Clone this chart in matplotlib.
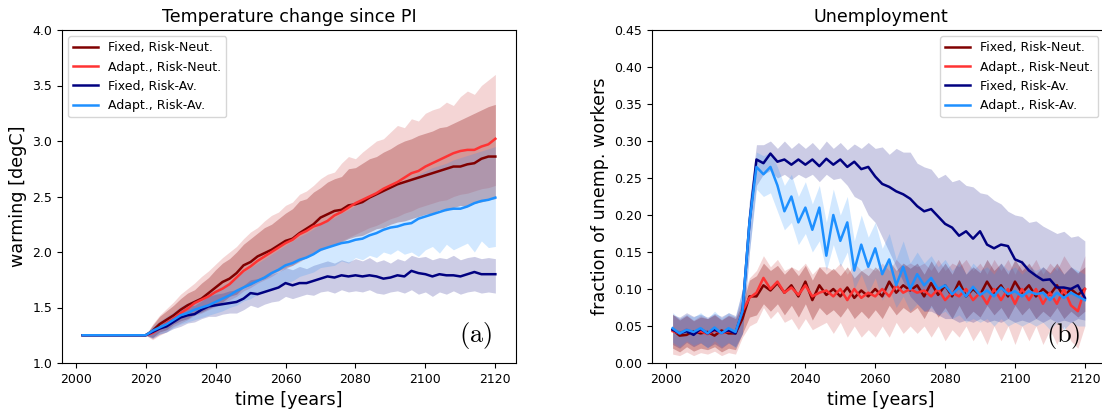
import numpy as np
import matplotlib
matplotlib.use("Agg")
import matplotlib.pyplot as plt

## data (2-year steps)
years = list(range(2002, 2121, 2))
labels = ["Fixed, Risk-Neut.", "Adapt., Risk-Neut.", "Fixed, Risk-Av.", "Adapt., Risk-Av."]
pre_flat = [1.25] * 10

# temperature change since PI [degC]
temp_fix_rn = pre_flat + [
    1.29, 1.35, 1.39, 1.43, 1.48, 1.52, 1.55, 1.58, 1.63, 1.68,
    1.73, 1.76, 1.81, 1.88, 1.91, 1.96, 1.99, 2.02, 2.06, 2.10,
    2.12, 2.17, 2.21, 2.25, 2.31, 2.34, 2.37, 2.38, 2.42, 2.43,
    2.45, 2.49, 2.52, 2.55, 2.58, 2.61, 2.63, 2.65, 2.67, 2.69,
    2.71, 2.73, 2.75, 2.77, 2.77, 2.79, 2.80, 2.84, 2.86, 2.86]
temp_fix_rn_lo = pre_flat + [
    1.23, 1.28, 1.30, 1.35, 1.38, 1.40, 1.44, 1.46, 1.49, 1.52,
    1.55, 1.60, 1.62, 1.68, 1.70, 1.74, 1.76, 1.80, 1.83, 1.86,
    1.88, 1.92, 1.95, 1.98, 2.02, 2.05, 2.07, 2.09, 2.12, 2.14,
    2.15, 2.18, 2.21, 2.22, 2.25, 2.27, 2.28, 2.30, 2.32, 2.34,
    2.35, 2.38, 2.37, 2.40, 2.42, 2.41, 2.44, 2.45, 2.47, 2.48]
temp_fix_rn_hi = pre_flat + [
    1.34, 1.42, 1.47, 1.52, 1.58, 1.63, 1.66, 1.72, 1.77, 1.84,
    1.90, 1.94, 2.00, 2.07, 2.12, 2.17, 2.22, 2.25, 2.30, 2.35,
    2.39, 2.46, 2.48, 2.54, 2.58, 2.63, 2.66, 2.68, 2.75, 2.76,
    2.80, 2.84, 2.86, 2.90, 2.93, 2.97, 3.00, 3.02, 3.05, 3.07,
    3.09, 3.12, 3.13, 3.16, 3.19, 3.22, 3.25, 3.28, 3.31, 3.33]

temp_ada_rn = pre_flat + [
    1.27, 1.31, 1.36, 1.40, 1.45, 1.49, 1.54, 1.57, 1.60, 1.64,
    1.67, 1.71, 1.77, 1.83, 1.87, 1.92, 1.96, 2.00, 2.04, 2.08,
    2.11, 2.16, 2.19, 2.23, 2.25, 2.28, 2.33, 2.36, 2.40, 2.44,
    2.47, 2.50, 2.53, 2.57, 2.60, 2.63, 2.67, 2.71, 2.73, 2.77,
    2.80, 2.83, 2.86, 2.89, 2.91, 2.92, 2.92, 2.95, 2.97, 3.02]
temp_ada_rn_lo = pre_flat + [
    1.21, 1.25, 1.28, 1.33, 1.36, 1.39, 1.43, 1.45, 1.48, 1.51,
    1.54, 1.57, 1.60, 1.65, 1.68, 1.72, 1.75, 1.78, 1.82, 1.85,
    1.88, 1.91, 1.95, 1.99, 2.01, 2.04, 2.07, 2.10, 2.13, 2.16,
    2.19, 2.22, 2.24, 2.27, 2.30, 2.32, 2.35, 2.37, 2.40, 2.42,
    2.44, 2.46, 2.47, 2.50, 2.52, 2.53, 2.55, 2.57, 2.58, 2.60]
temp_ada_rn_hi = pre_flat + [
    1.35, 1.43, 1.49, 1.55, 1.62, 1.67, 1.72, 1.78, 1.83, 1.89,
    1.95, 2.00, 2.05, 2.12, 2.18, 2.22, 2.28, 2.33, 2.36, 2.42,
    2.45, 2.52, 2.55, 2.60, 2.66, 2.70, 2.72, 2.80, 2.86, 2.84,
    2.90, 2.95, 3.00, 3.02, 3.08, 3.14, 3.12, 3.20, 3.18, 3.25,
    3.28, 3.30, 3.35, 3.32, 3.40, 3.45, 3.42, 3.50, 3.55, 3.60]

temp_fix_ra = pre_flat + [
    1.28, 1.31, 1.33, 1.37, 1.41, 1.43, 1.44, 1.48, 1.51, 1.52,
    1.53, 1.54, 1.55, 1.58, 1.63, 1.62, 1.64, 1.66, 1.68, 1.72,
    1.70, 1.72, 1.72, 1.74, 1.76, 1.78, 1.77, 1.79, 1.78, 1.79,
    1.78, 1.79, 1.78, 1.76, 1.77, 1.79, 1.78, 1.83, 1.81, 1.80,
    1.78, 1.80, 1.79, 1.79, 1.78, 1.80, 1.82, 1.80, 1.80, 1.80]
temp_fix_ra_lo = pre_flat + [
    1.22, 1.26, 1.28, 1.31, 1.33, 1.36, 1.37, 1.40, 1.42, 1.42,
    1.44, 1.45, 1.45, 1.48, 1.52, 1.50, 1.53, 1.55, 1.56, 1.60,
    1.58, 1.60, 1.62, 1.61, 1.64, 1.65, 1.63, 1.66, 1.64, 1.65,
    1.64, 1.66, 1.63, 1.62, 1.64, 1.65, 1.63, 1.66, 1.62, 1.64,
    1.60, 1.64, 1.62, 1.65, 1.62, 1.64, 1.65, 1.63, 1.64, 1.63]
temp_fix_ra_hi = pre_flat + [
    1.32, 1.36, 1.39, 1.43, 1.48, 1.51, 1.52, 1.56, 1.60, 1.62,
    1.63, 1.65, 1.66, 1.70, 1.75, 1.76, 1.78, 1.80, 1.82, 1.86,
    1.84, 1.87, 1.85, 1.88, 1.90, 1.92, 1.90, 1.93, 1.91, 1.94,
    1.92, 1.95, 1.91, 1.93, 1.90, 1.94, 1.92, 1.97, 1.95, 1.96,
    1.93, 1.95, 1.94, 1.97, 1.93, 1.95, 1.96, 1.94, 1.95, 1.94]

temp_ada_ra = pre_flat + [
    1.29, 1.32, 1.35, 1.39, 1.43, 1.45, 1.48, 1.50, 1.52, 1.55,
    1.58, 1.61, 1.65, 1.68, 1.71, 1.74, 1.77, 1.81, 1.84, 1.88,
    1.90, 1.93, 1.95, 1.98, 2.02, 2.04, 2.06, 2.08, 2.09, 2.11,
    2.12, 2.15, 2.17, 2.20, 2.22, 2.23, 2.25, 2.26, 2.30, 2.32,
    2.34, 2.36, 2.38, 2.39, 2.39, 2.41, 2.44, 2.46, 2.47, 2.49]
temp_ada_ra_lo = pre_flat + [
    1.23, 1.26, 1.28, 1.32, 1.35, 1.37, 1.39, 1.41, 1.43, 1.45,
    1.47, 1.50, 1.52, 1.56, 1.58, 1.62, 1.64, 1.67, 1.70, 1.72,
    1.74, 1.78, 1.80, 1.82, 1.86, 1.87, 1.88, 1.92, 1.90, 1.95,
    1.93, 1.97, 1.95, 2.00, 1.98, 2.02, 1.98, 2.00, 1.96, 2.02,
    2.05, 1.99, 2.07, 2.02, 2.05, 2.08, 2.00, 2.10, 2.04, 2.05]
temp_ada_ra_hi = pre_flat + [
    1.33, 1.38, 1.42, 1.46, 1.51, 1.54, 1.57, 1.60, 1.63, 1.66,
    1.70, 1.73, 1.78, 1.82, 1.86, 1.90, 1.94, 1.98, 2.02, 2.06,
    2.10, 2.14, 2.17, 2.21, 2.25, 2.28, 2.31, 2.35, 2.38, 2.42,
    2.45, 2.48, 2.52, 2.55, 2.58, 2.61, 2.64, 2.67, 2.70, 2.73,
    2.76, 2.78, 2.80, 2.83, 2.85, 2.87, 2.89, 2.91, 2.93, 2.95]

# unemployment [fraction of unemp. workers]
unemp_fix_rn = [
    0.045, 0.037, 0.038, 0.043, 0.040, 0.042, 0.037, 0.044, 0.040, 0.040,
    0.060, 0.090, 0.090, 0.105, 0.098, 0.108, 0.095, 0.105, 0.090, 0.110,
    0.085, 0.105, 0.092, 0.100, 0.090, 0.102, 0.088, 0.098, 0.090, 0.100,
    0.090, 0.110, 0.095, 0.105, 0.098, 0.105, 0.090, 0.108, 0.092, 0.105,
    0.090, 0.110, 0.090, 0.100, 0.092, 0.110, 0.095, 0.105, 0.090, 0.110,
    0.095, 0.105, 0.090, 0.100, 0.092, 0.105, 0.090, 0.100, 0.092, 0.100]
unemp_fix_rn_lo = [
    0.020, 0.015, 0.022, 0.016, 0.020, 0.018, 0.022, 0.015, 0.020, 0.018,
    0.040, 0.062, 0.065, 0.080, 0.070, 0.080, 0.065, 0.078, 0.062, 0.080,
    0.058, 0.075, 0.065, 0.072, 0.062, 0.075, 0.060, 0.070, 0.060, 0.072,
    0.060, 0.078, 0.065, 0.075, 0.068, 0.075, 0.060, 0.078, 0.062, 0.075,
    0.060, 0.078, 0.060, 0.070, 0.062, 0.078, 0.065, 0.075, 0.060, 0.078,
    0.065, 0.075, 0.060, 0.070, 0.062, 0.075, 0.060, 0.070, 0.062, 0.070]
unemp_fix_rn_hi = [
    0.066, 0.058, 0.064, 0.057, 0.062, 0.060, 0.065, 0.058, 0.064, 0.060,
    0.080, 0.112, 0.118, 0.135, 0.125, 0.132, 0.120, 0.130, 0.118, 0.132,
    0.112, 0.130, 0.120, 0.128, 0.118, 0.130, 0.115, 0.125, 0.118, 0.130,
    0.120, 0.138, 0.125, 0.135, 0.128, 0.135, 0.120, 0.138, 0.122, 0.135,
    0.120, 0.140, 0.120, 0.130, 0.122, 0.140, 0.125, 0.135, 0.120, 0.140,
    0.125, 0.135, 0.120, 0.130, 0.122, 0.135, 0.120, 0.130, 0.122, 0.130]

unemp_ada_rn = [
    0.043, 0.040, 0.045, 0.040, 0.043, 0.039, 0.044, 0.040, 0.043, 0.041,
    0.070, 0.088, 0.095, 0.115, 0.100, 0.110, 0.095, 0.102, 0.092, 0.105,
    0.090, 0.095, 0.098, 0.090, 0.100, 0.085, 0.100, 0.088, 0.095, 0.090,
    0.100, 0.090, 0.105, 0.095, 0.100, 0.095, 0.098, 0.090, 0.100, 0.085,
    0.095, 0.090, 0.100, 0.085, 0.095, 0.080, 0.100, 0.085, 0.100, 0.080,
    0.100, 0.085, 0.100, 0.080, 0.095, 0.080, 0.100, 0.078, 0.070, 0.100]
unemp_ada_rn_lo = [
    0.012, 0.010, 0.015, 0.010, 0.014, 0.012, 0.016, 0.010, 0.014, 0.012,
    0.035, 0.050, 0.055, 0.075, 0.060, 0.070, 0.055, 0.060, 0.045, 0.060,
    0.045, 0.050, 0.055, 0.040, 0.055, 0.035, 0.050, 0.035, 0.045, 0.035,
    0.050, 0.035, 0.055, 0.040, 0.050, 0.040, 0.050, 0.035, 0.050, 0.030,
    0.045, 0.035, 0.050, 0.030, 0.045, 0.025, 0.050, 0.030, 0.050, 0.025,
    0.050, 0.030, 0.050, 0.025, 0.045, 0.025, 0.050, 0.030, 0.020, 0.050]
unemp_ada_rn_hi = [
    0.066, 0.060, 0.065, 0.058, 0.064, 0.060, 0.066, 0.059, 0.065, 0.062,
    0.090, 0.115, 0.125, 0.145, 0.130, 0.140, 0.125, 0.130, 0.125, 0.135,
    0.120, 0.130, 0.130, 0.125, 0.135, 0.120, 0.135, 0.125, 0.130, 0.125,
    0.135, 0.125, 0.140, 0.130, 0.135, 0.130, 0.135, 0.125, 0.140, 0.125,
    0.135, 0.130, 0.140, 0.125, 0.135, 0.120, 0.140, 0.125, 0.140, 0.120,
    0.140, 0.125, 0.140, 0.120, 0.135, 0.125, 0.145, 0.130, 0.120, 0.145]

unemp_fix_ra = [
    0.045, 0.040, 0.043, 0.038, 0.046, 0.040, 0.045, 0.041, 0.044, 0.040,
    0.070, 0.190, 0.275, 0.270, 0.283, 0.272, 0.275, 0.268, 0.275, 0.268,
    0.275, 0.266, 0.276, 0.268, 0.275, 0.265, 0.272, 0.262, 0.265, 0.252,
    0.242, 0.238, 0.232, 0.228, 0.222, 0.212, 0.205, 0.208, 0.198, 0.188,
    0.183, 0.172, 0.178, 0.168, 0.178, 0.160, 0.155, 0.160, 0.158, 0.140,
    0.136, 0.125, 0.118, 0.112, 0.113, 0.102, 0.102, 0.100, 0.105, 0.088]
unemp_fix_ra_lo = [
    0.025, 0.020, 0.028, 0.022, 0.027, 0.021, 0.026, 0.020, 0.027, 0.022,
    0.040, 0.150, 0.240, 0.255, 0.260, 0.250, 0.255, 0.248, 0.255, 0.250,
    0.255, 0.245, 0.255, 0.248, 0.250, 0.240, 0.225, 0.220, 0.200, 0.190,
    0.170, 0.150, 0.130, 0.110, 0.090, 0.080, 0.070, 0.070, 0.065, 0.060,
    0.060, 0.055, 0.058, 0.055, 0.060, 0.055, 0.058, 0.055, 0.060, 0.055,
    0.058, 0.055, 0.060, 0.055, 0.060, 0.055, 0.058, 0.055, 0.060, 0.058]
unemp_fix_ra_hi = [
    0.065, 0.062, 0.068, 0.063, 0.066, 0.062, 0.067, 0.063, 0.068, 0.064,
    0.100, 0.220, 0.295, 0.295, 0.300, 0.290, 0.300, 0.290, 0.298, 0.290,
    0.298, 0.288, 0.300, 0.290, 0.298, 0.288, 0.296, 0.290, 0.298, 0.290,
    0.292, 0.282, 0.290, 0.285, 0.285, 0.270, 0.265, 0.262, 0.250, 0.255,
    0.245, 0.248, 0.240, 0.238, 0.230, 0.228, 0.220, 0.215, 0.205, 0.200,
    0.198, 0.190, 0.192, 0.185, 0.180, 0.175, 0.178, 0.170, 0.172, 0.165]

unemp_ada_ra = [
    0.047, 0.040, 0.045, 0.042, 0.047, 0.040, 0.048, 0.040, 0.047, 0.042,
    0.070, 0.190, 0.265, 0.255, 0.265, 0.240, 0.205, 0.225, 0.190, 0.210,
    0.180, 0.210, 0.145, 0.200, 0.165, 0.190, 0.125, 0.160, 0.130, 0.155,
    0.120, 0.140, 0.105, 0.130, 0.100, 0.120, 0.105, 0.115, 0.100, 0.105,
    0.093, 0.102, 0.090, 0.103, 0.092, 0.098, 0.090, 0.102, 0.093, 0.097,
    0.090, 0.097, 0.093, 0.095, 0.085, 0.095, 0.088, 0.095, 0.090, 0.085]
unemp_ada_ra_lo = [
    0.028, 0.022, 0.030, 0.024, 0.028, 0.020, 0.030, 0.022, 0.028, 0.020,
    0.040, 0.150, 0.235, 0.225, 0.230, 0.205, 0.180, 0.190, 0.160, 0.175,
    0.150, 0.165, 0.125, 0.160, 0.130, 0.150, 0.100, 0.120, 0.095, 0.115,
    0.085, 0.100, 0.075, 0.090, 0.070, 0.080, 0.070, 0.075, 0.065, 0.070,
    0.060, 0.065, 0.055, 0.060, 0.055, 0.060, 0.050, 0.060, 0.050, 0.055,
    0.050, 0.055, 0.050, 0.055, 0.045, 0.055, 0.045, 0.055, 0.050, 0.050]
unemp_ada_ra_hi = [
    0.068, 0.060, 0.066, 0.062, 0.068, 0.060, 0.070, 0.061, 0.068, 0.062,
    0.100, 0.220, 0.285, 0.280, 0.285, 0.265, 0.240, 0.255, 0.225, 0.245,
    0.215, 0.240, 0.190, 0.235, 0.200, 0.225, 0.165, 0.200, 0.170, 0.190,
    0.155, 0.175, 0.140, 0.165, 0.135, 0.150, 0.135, 0.145, 0.130, 0.140,
    0.125, 0.135, 0.120, 0.135, 0.125, 0.130, 0.120, 0.135, 0.125, 0.130,
    0.120, 0.130, 0.125, 0.130, 0.120, 0.130, 0.120, 0.130, 0.125, 0.120]

## styles
colors = ["#800000", "#ff3333", "#000080", "#1e90ff"]
fill_colors = ["#800000", "#c83030", "#000080", "#1e90ff"]
fill_alpha = [0.3, 0.2, 0.2, 0.2]

temp = [(temp_fix_rn, temp_fix_rn_lo, temp_fix_rn_hi),
        (temp_ada_rn, temp_ada_rn_lo, temp_ada_rn_hi),
        (temp_fix_ra, temp_fix_ra_lo, temp_fix_ra_hi),
        (temp_ada_ra, temp_ada_ra_lo, temp_ada_ra_hi)]
unemp = [(unemp_fix_rn, unemp_fix_rn_lo, unemp_fix_rn_hi),
         (unemp_ada_rn, unemp_ada_rn_lo, unemp_ada_rn_hi),
         (unemp_fix_ra, unemp_fix_ra_lo, unemp_fix_ra_hi),
         (unemp_ada_ra, unemp_ada_ra_lo, unemp_ada_ra_hi)]


def draw(ax, series):
    for (m, lo, hi), c, fc, a, lab in zip(series, colors, fill_colors, fill_alpha, labels):
        ax.fill_between(years, lo, hi, color=fc, alpha=a, linewidth=0)
        ax.plot(years, m, color=c, lw=1.8, label=lab)


fig = plt.figure(figsize=(11.02, 4.12), dpi=100)
ax1 = fig.add_axes([62 / 1102, 49 / 412, 454 / 1102, 333 / 412])
# right panel runs past the figure edge, as in the reference
ax2 = fig.add_axes([652 / 1102, 49 / 412, 458 / 1102, 333 / 412])

draw(ax1, temp)
draw(ax2, unemp)

ax1.set_ylim(1.0, 4.0)
ax2.set_ylim(0.0, 0.45)
ax2.set_xlim(1996.1, 2127.2)
ax1.set_yticks(np.arange(1.0, 4.01, 0.5))
ax2.set_yticks(np.arange(0.0, 0.451, 0.05))
for ax in (ax1, ax2):
    ax.set_xticks(range(2000, 2121, 20))
    ax.tick_params(labelsize=9)
    ax.set_xlabel("time [years]", fontsize=12.6)

ax1.set_title("Temperature change since PI", fontsize=12.6)
ax2.set_title("Unemployment", fontsize=12.6)
ax1.set_ylabel("warming [degC]", fontsize=12.6)
ax2.set_ylabel("fraction of unemp. workers", fontsize=12.6)

ax1.legend(loc="upper left", fontsize=9)
ax2.legend(loc="upper right", fontsize=9, bbox_to_anchor=(0.988, 1.0))

ax1.text(0.91, 0.083, r"$(\mathrm{a})$", transform=ax1.transAxes, ha="center", va="center",
         fontsize=19, math_fontfamily="cm")
ax2.text(0.897, 0.083, r"$(\mathrm{b})$", transform=ax2.transAxes, ha="center", va="center",
         fontsize=19, math_fontfamily="cm")

fig.savefig("out.png", dpi=100)
